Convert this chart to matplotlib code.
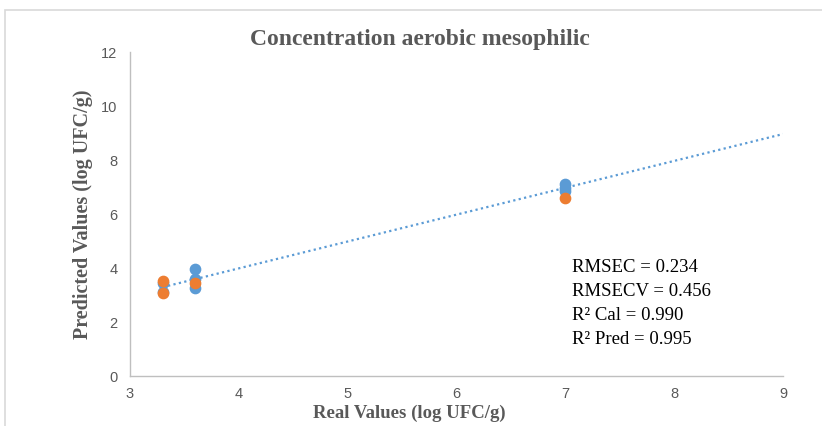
import numpy as np
import matplotlib
matplotlib.use("Agg")
import matplotlib.pyplot as plt
from matplotlib.patches import Rectangle

# calibration (blue) and prediction (orange) points
cal_x = [3.3, 3.3, 3.6, 3.6, 3.6, 7.0, 7.0, 7.0]
cal_y = [3.44, 3.10, 3.96, 3.59, 3.26, 7.11, 6.95, 6.85]
pred_x = [3.3, 3.3, 3.6, 7.0]
pred_y = [3.52, 3.07, 3.44, 6.60]

x_ticks = [3, 4, 5, 6, 7, 8, 9]
y_ticks = [0, 2, 4, 6, 8, 10, 12]
stats = ["RMSEC = 0.234", "RMSECV = 0.456", "R² Cal = 0.990", "R² Pred = 0.995"]

blue = '#5B9BD5'
orange = '#ED7D31'
grey = '#595959'
tick_font = ['Liberation Sans Narrow', 'Liberation Sans', 'DejaVu Sans']
serif = ['Liberation Serif', 'DejaVu Serif']

fig = plt.figure(figsize=(8.22, 4.26), dpi=100)
fig.patches.append(Rectangle((5/822, -0.1), 1.2, (426-10)/426 + 0.1, transform=fig.transFigure,
                             fill=False, edgecolor='#D9D9D9', linewidth=1.2))
ax = fig.add_axes([130/822, 50/426, 653/822, 324/426])

# linear trendline from calibration set, forward to x=9
k, b = np.polyfit(cal_x, cal_y, 1)
xt = np.array([min(cal_x), 9])
ax.plot(xt, k*xt + b, linestyle=(0, (1, 1.5)), color=blue, linewidth=1.6, zorder=1)

ax.scatter(cal_x, cal_y, s=55, color=blue, zorder=2)
ax.scatter(pred_x, pred_y, s=55, color=orange, zorder=3)

ax.set_xlim(3, 9)
ax.set_ylim(0, 12)
ax.set_xticks(x_ticks)
ax.set_yticks(y_ticks)
for lbl in ax.get_xticklabels() + ax.get_yticklabels():
    lbl.set_family(tick_font)
    lbl.set_fontsize(10.5)
    lbl.set_color(grey)
ax.tick_params(axis='x', length=0, pad=8)
ax.tick_params(axis='y', length=0, pad=9)
for s in ['top', 'right']:
    ax.spines[s].set_visible(False)
for s in ['left', 'bottom']:
    ax.spines[s].set_color('#BFBFBF')
    ax.spines[s].set_linewidth(1.0)

ax.set_xlabel('Real Values (log UFC/g)', family=serif, fontsize=13.5, fontweight='bold',
              color=grey)
ax.xaxis.set_label_coords((409-130)/653, -(405-376)/324)
ax.set_ylabel('Predicted Values (log UFC/g)', family=serif, fontsize=14.5, fontweight='bold',
              color=grey)
ax.yaxis.set_label_coords(-(130-93)/653, 0.5)
fig.text(420/822, 1 - 40/426, 'Concentration aerobic mesophilic', family=serif, fontsize=17,
         fontweight='bold', color=grey, ha='center', va='center')

for i, t in enumerate(stats):
    fig.text(572/822, 1 - (268 + i*24)/426, t, family=serif, fontsize=13.5, color='black',
             ha='left', va='center')

fig.savefig('out.png', dpi=100)
